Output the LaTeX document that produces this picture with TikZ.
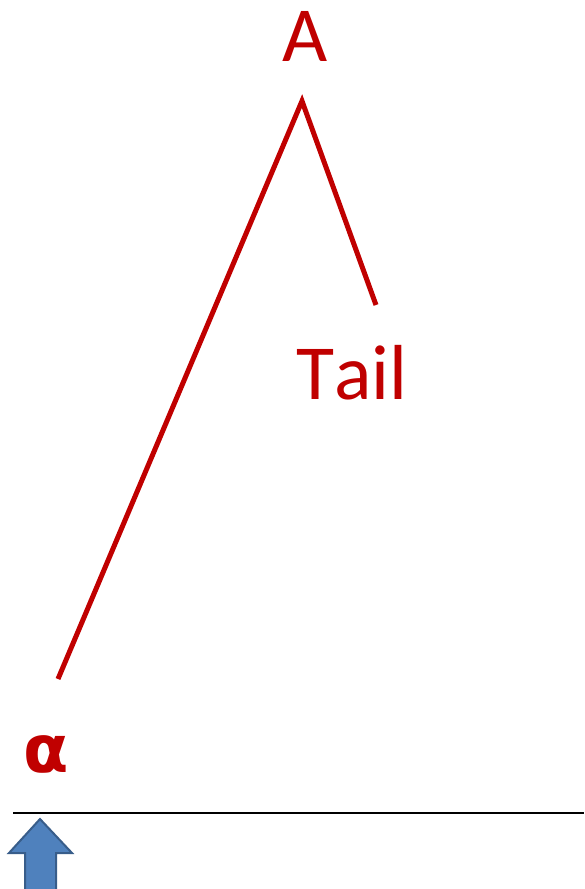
\documentclass[tikz,border=0pt]{standalone}
\usepackage{fontspec}
\setmainfont{Carlito}[Kerning=Off]
\newfontfamily\alphafont{DejaVu Sans}
\definecolor{darkred}{HTML}{C00000}
\definecolor{arrowfill}{HTML}{4F81BD}
\definecolor{arrowline}{HTML}{385D8A}
\begin{document}
\begin{tikzpicture}[x=1pt,y=-1pt,
  lbl/.style={text=darkred,font=\fontsize{78}{80}\selectfont,inner sep=0pt,anchor=base west},
  redline/.style={draw=darkred,line width=5pt}]
\useasboundingbox (0,0) rectangle (584,889);
\node[lbl] (A) at (282,61) {A};
\node[lbl] (tail) at (296,399) {Tail};
\node[lbl,font=\alphafont\fontsize{66}{68}\selectfont\bfseries] (alpha) at (23,772) {α};
\coordinate (apex) at (302,101);
\coordinate (lend) at (58,679);
\coordinate (rend) at (376,305);
\draw[redline] (lend) -- (apex) -- (rend);
\coordinate (gl) at (13,813);
\coordinate (gr) at (584,813);
\draw[line width=2pt] (gl) -- (gr);
\filldraw[fill=arrowfill,draw=arrowline,line width=2pt]
  (40,819) -- (72,853) -- (56,853) -- (56,892) -- (25,892) -- (25,853) -- (9,853) -- cycle;
\end{tikzpicture}
\end{document}
